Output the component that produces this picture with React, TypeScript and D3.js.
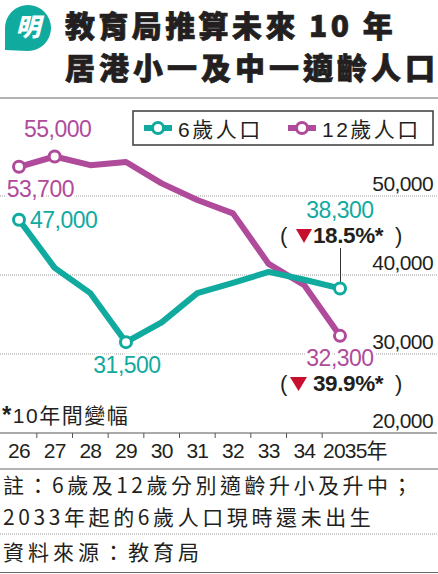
import React from "react";
import * as d3 from "d3";

const years = [2026, 2027, 2028, 2029, 2030, 2031, 2032, 2033, 2034, 2035];
const yearLabels = ["26", "27", "28", "29", "30", "31", "32", "33", "34", "2035年"];
const age6 = [47000, 40900, 37700, 31500, 34000, 37700, 39000, 40400, 39400, 38300];
const age12 = [53700, 55000, 53900, 54300, 51600, 49500, 47800, 41400, 38700, 32300];
const yTicks = [20000, 30000, 40000, 50000];
const seriesNames = ["6歲人口", "12歲人口"];
const changes = ["18.5%*", "39.9%*"];

const TEAL = "#10aa9f";
const PURPLE = "#b04b9b";
const INK = "#231f20";
const RED = "#c8102e";
const SANS = "'Liberation Sans', Arial, 'Noto Sans CJK TC', sans-serif";
const CJK = "'Noto Sans CJK TC', 'Liberation Sans', sans-serif";

export default function App() {
  const W = 438;
  const H = 574;
  const x = d3.scaleLinear().domain([2026, 2035]).range([19, 340]);
  const y = d3.scaleLinear().domain([20000, 50000]).range([433, 196]);
  const line = d3
    .line<number>()
    .x((_, i) => x(years[i]))
    .y((d) => y(d));
  const fmt = d3.format(",");
  const halo = { paintOrder: "stroke" as const, stroke: "#fff", strokeWidth: 5, strokeLinejoin: "round" as const };
  const last = years.length - 1;
  const xl = x(years[last]);

  const changeMark = (baseline: number, txt: string, triX0: number, triW: number) => (
    <g>
      <text x={xl - 60} y={baseline} fontFamily={SANS} fontSize={22} fill={INK}>(</text>
      <path
        d={`M${triX0},${baseline - 14} L${triX0 + triW},${baseline - 14} L${triX0 + triW / 2},${baseline} Z`}
        fill={RED}
      />
      <text x={xl - 27} y={baseline} fontFamily={SANS} fontSize={22.5} fontWeight={700} fill={INK} letterSpacing={-0.4}>
        {txt}
      </text>
      <text x={xl + 55} y={baseline} fontFamily={SANS} fontSize={22} fill={INK}>)</text>
    </g>
  );

  return (
    <svg width={W} height={H} style={{ position: "absolute", left: 0, top: 0, background: "#fff" }}>
      <rect width={W} height={H} fill="#fff" />
      {/* logo */}
      <path d="M5,50 L5,28 A23,23 0 1 1 28,51 Z" fill={TEAL} />
      <text x={28} y={36} textAnchor="middle" fontFamily={CJK} fontSize={25} fontWeight={900} fill="#fff" fontStyle="italic">
        明
      </text>
      {/* title */}
      <text x={65} y={37} fontFamily={CJK} fontSize={30} fontWeight={900} fill={INK} stroke={INK} strokeWidth={0.7} letterSpacing={3.4}>
        教育局推算未來 10 年
      </text>
      <text x={65} y={79} fontFamily={CJK} fontSize={30} fontWeight={900} fill={INK} stroke={INK} strokeWidth={0.7} letterSpacing={4}>
        居港小一及中一適齡人口
      </text>
      <line x1={0} x2={W} y1={98} y2={98} stroke="#666" strokeWidth={1.2} />

      {/* gridlines */}
      {yTicks.slice(1).map((t) => (
        <line key={t} x1={0} x2={W} y1={y(t)} y2={y(t)} stroke="#9a9a9a" strokeWidth={1} strokeDasharray="1,1" />
      ))}
      {/* right axis labels */}
      {yTicks.map((t) => (
        <text key={t} x={433} y={y(t) - 5} textAnchor="end" fontFamily={SANS} fontSize={21} fill={INK} letterSpacing={-0.6}>
          {fmt(t)}
        </text>
      ))}

      {/* x axis */}
      <line x1={0} x2={437} y1={y(20000)} y2={y(20000)} stroke="#555" strokeWidth={1} />
      {years.slice(0, -1).map((yr, i) => {
        const tx = (x(yr) + x(years[i + 1])) / 2;
        return <line key={yr} x1={tx} x2={tx} y1={433} y2={438} stroke="#555" strokeWidth={1} />;
      })}
      {yearLabels.map((l, i) =>
        i === last ? (
          <text key={l} x={323} y={458} fontFamily={SANS} fontSize={21} fill={INK} letterSpacing={-0.8}>
            {l}
          </text>
        ) : (
          <text key={l} x={x(years[i])} y={458} textAnchor="middle" fontFamily={SANS} fontSize={21} fill={INK} letterSpacing={-0.8}>
            {l}
          </text>
        )
      )}

      {/* footnote */}
      <text x={2} y={423} fontFamily={SANS} fontSize={21} fill={INK} letterSpacing={1.5}>
        <tspan fontWeight={700} fontSize={24}>*</tspan>10年間變幅
      </text>

      {/* legend */}
      <rect x={133} y={111} width={300} height={34} fill="#fff" stroke="#3a3a3a" strokeWidth={1.5} />
      <line x1={144} x2={172} y1={128} y2={128} stroke={TEAL} strokeWidth={6} />
      <circle cx={158} cy={128} r={5.5} fill="#fff" stroke={TEAL} strokeWidth={3} />
      <text x={178} y={137} fontFamily={SANS} fontSize={21} fill={INK} letterSpacing={2.5}>
        {seriesNames[0]}
      </text>
      <line x1={288} x2={316} y1={128} y2={128} stroke={PURPLE} strokeWidth={6} />
      <circle cx={302} cy={128} r={5.5} fill="#fff" stroke={PURPLE} strokeWidth={3} />
      <text x={322} y={137} fontFamily={SANS} fontSize={21} fill={INK} letterSpacing={2.5}>
        {seriesNames[1]}
      </text>

      {/* leader line */}
      <line x1={xl + 0.5} x2={xl + 0.5} y1={248} y2={y(age6[last]) - 6} stroke="#333" strokeWidth={1} />

      {/* lines */}
      <path d={line(age12) || ""} fill="none" stroke={PURPLE} strokeWidth={6} strokeLinejoin="round" />
      <path d={line(age6) || ""} fill="none" stroke={TEAL} strokeWidth={6} strokeLinejoin="round" />

      {/* markers */}
      {[0, 1, last].map((i) => (
        <circle key={"p" + i} cx={x(years[i])} cy={y(age12[i])} r={5.5} fill="#fff" stroke={PURPLE} strokeWidth={3} />
      ))}
      {[0, 3, last].map((i) => (
        <circle key={"t" + i} cx={x(years[i])} cy={y(age6[i])} r={5.5} fill="#fff" stroke={TEAL} strokeWidth={3} />
      ))}

      {/* data labels */}
      <text x={x(years[1]) + 3} y={137} textAnchor="middle" fontFamily={SANS} fontSize={23} fill={PURPLE} letterSpacing={-0.5}>
        {fmt(age12[1])}
      </text>
      <text x={74} y={197} textAnchor="end" fontFamily={SANS} fontSize={23} fill={PURPLE} letterSpacing={-0.5} style={halo}>
        {fmt(age12[0])}
      </text>
      <text x={30} y={228} fontFamily={SANS} fontSize={23} fill={TEAL} letterSpacing={-0.5} style={halo}>
        {fmt(age6[0])}
      </text>
      <text x={x(years[3]) + 1} y={373} textAnchor="middle" fontFamily={SANS} fontSize={23} fill={TEAL} letterSpacing={-0.5} style={halo}>
        {fmt(age6[3])}
      </text>
      <text x={xl} y={218} textAnchor="middle" fontFamily={SANS} fontSize={23} fill={TEAL} letterSpacing={-0.5} style={halo}>
        {fmt(age6[last])}
      </text>
      <text x={xl} y={366} textAnchor="middle" fontFamily={SANS} fontSize={23} fill={PURPLE} letterSpacing={-0.5} style={halo}>
        {fmt(age12[last])}
      </text>
      {changeMark(243, changes[0], 296, 16)}
      {changeMark(391, changes[1], 290, 17)}

      {/* notes */}
      <line x1={0} x2={W} y1={469} y2={469} stroke="#666" strokeWidth={1} />
      <text x={3} y={493} fontFamily={CJK} fontSize={21} fill={INK} letterSpacing={3.5}>
        註：6歲及12歲分別適齡升小及升中；
      </text>
      <text x={3} y={525} fontFamily={CJK} fontSize={21} fill={INK} letterSpacing={3.6}>
        2033年起的6歲人口現時還未出生
      </text>
      <line x1={0} x2={W} y1={534} y2={534} stroke="#999" strokeWidth={1} strokeDasharray="1,1" />
      <text x={3} y={560} fontFamily={CJK} fontSize={21} fill={INK} letterSpacing={4}>
        資料來源：教育局
      </text>
      <line x1={0} x2={W} y1={572.5} y2={572.5} stroke="#666" strokeWidth={1} />
    </svg>
  );
}
